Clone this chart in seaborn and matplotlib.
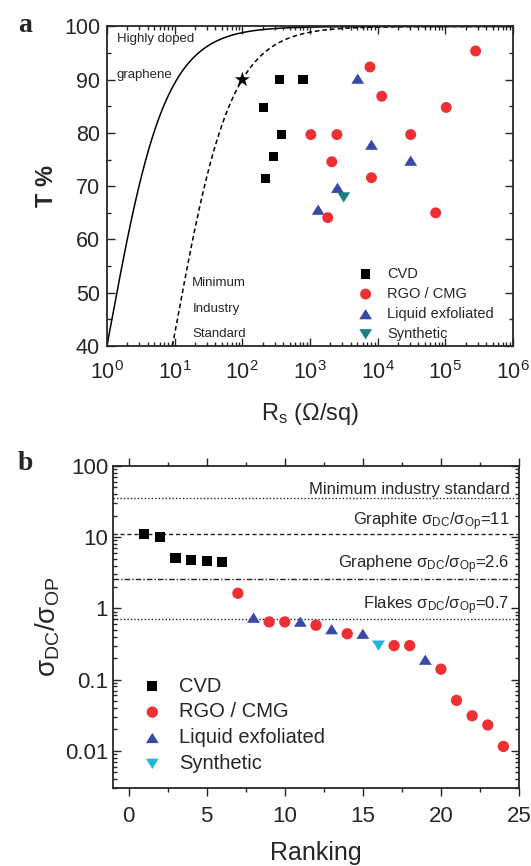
import numpy as np
import pandas as pd
import matplotlib
matplotlib.use("Agg")
import matplotlib.pyplot as plt
import seaborn as sns
from matplotlib.ticker import LogLocator, MultipleLocator, NullFormatter, FixedLocator, FixedFormatter

# ---------------- Panel a data ----------------
cvd_rs = [356, 790, 205, 377, 290, 219]
cvd_t = [90, 90, 84.8, 79.7, 75.6, 71.5]
rgo_rs = [2.8e5, 7700, 11500, 1.03e5, 1030, 2500, 30800, 2100, 8100, 1830, 72000]
rgo_t = [95.4, 92.4, 86.9, 84.8, 79.7, 79.7, 79.7, 74.6, 71.6, 64.1, 65.0]
liq_rs = [5080, 8100, 30800, 2550, 1320]
liq_t = [90.2, 77.8, 74.8, 69.7, 65.6]
syn_rs = [3150]
syn_t = [67.9]
star_rs = [100]
star_t = [90]
# model curves: T = (1 + Z0/(2 Rs) / ratio)^-2
z0 = 376.7
ratio_doped = 325
ratio_industry = 35

# ---------------- Panel b data ----------------
cvd_rank = [1, 2, 3, 4, 5, 6]
cvd_ratio = [11.2, 10.1, 5.1, 4.77, 4.6, 4.47]
rgo_rank = [7, 9, 10, 12, 14, 17, 18, 20, 21, 22, 23, 24]
rgo_ratio = [1.63, 0.645, 0.645, 0.58, 0.44, 0.30, 0.30, 0.14, 0.051, 0.031, 0.023, 0.0115]
liq_rank = [8, 11, 13, 15, 19]
liq_ratio = [0.74, 0.65, 0.51, 0.44, 0.19]
syn_rank = [16]
syn_ratio = [0.30]
ref_levels = [35, 11, 2.6, 0.7]
ref_styles = [(0, (1, 1.5)), (0, (3, 2)), (0, (4, 1.5, 1, 1.5)), (0, (1, 1.5))]
ref_texts = ["Minimum industry standard",
             r"Graphite σ$_{\mathregular{DC}}$/σ$_{\mathregular{Op}}$=11",
             r"Graphene σ$_{\mathregular{DC}}$/σ$_{\mathregular{Op}}$=2.6",
             r"Flakes σ$_{\mathregular{DC}}$/σ$_{\mathregular{Op}}$=0.7"]
ref_text_y = [40, 14.6, 3.66, 0.975]

labels = ["CVD", "RGO / CMG", "Liquid exfoliated", "Synthetic"]

sns.set_style("ticks")
plt.rcParams["font.family"] = ["Liberation Sans", "DejaVu Sans"]
plt.rcParams["mathtext.fontset"] = "custom"
plt.rcParams["mathtext.rm"] = "Liberation Sans"
plt.rcParams["mathtext.it"] = "Liberation Sans:italic"
plt.rcParams["mathtext.bf"] = "Liberation Sans:bold"
plt.rcParams["mathtext.sf"] = "Liberation Sans"

tri_up = [(0, 0.8), (-1, -0.8), (1, -0.8)]
tri_dn = [(0, -0.8), (-1, 0.8), (1, 0.8)]

red = "#ee2f33"
blue = "#3949a6"
teal = "#1a7f80"
cyan = "#22b6d6"

fig = plt.figure(figsize=(5.31, 8.66), dpi=100)
axa = fig.add_axes([0.2015, 0.6005, 0.7646, 0.3689])
axb = fig.add_axes([0.2128, 0.0901, 0.7646, 0.3718])

# ---------------- Panel a ----------------
rs_grid = np.logspace(-0.2, 6, 600)
curve = pd.DataFrame({
    "rs": np.concatenate([rs_grid, rs_grid]),
    "T": np.concatenate([100 * (1 + z0 / (2 * rs_grid) / ratio_doped) ** -2,
                         100 * (1 + z0 / (2 * rs_grid) / ratio_industry) ** -2]),
    "kind": ["doped"] * len(rs_grid) + ["industry"] * len(rs_grid),
})
sns.lineplot(data=curve[curve.kind == "doped"], x="rs", y="T", ax=axa, color="black",
             lw=1.1, estimator=None, sort=False)
sns.lineplot(data=curve[curve.kind == "industry"], x="rs", y="T", ax=axa, color="black",
             lw=1.1, estimator=None, sort=False, linestyle=(0, (3, 2)))

groups_a = [(cvd_rs, cvd_t, "s", "black", 45),
            (rgo_rs, rgo_t, "o", red, 62),
            (liq_rs, liq_t, tri_up, blue, 85),
            (syn_rs, syn_t, tri_dn, teal, 85)]
for (xs, ys, mk, col, s), lab in zip(groups_a, labels):
    sns.scatterplot(x=xs, y=ys, ax=axa, marker=mk, color=col, s=s, edgecolor="none",
                    label=lab, zorder=3)
sns.scatterplot(x=star_rs, y=star_t, ax=axa, marker="*", color="black", s=130,
                edgecolor="none", zorder=3)

axa.set_xscale("log")
axa.set_xlim(1, 1e6)
axa.set_ylim(40, 100)
axa.xaxis.set_major_locator(LogLocator(base=10, numticks=10))
axa.xaxis.set_minor_locator(LogLocator(base=10, subs=np.arange(2, 10), numticks=20))
axa.xaxis.set_minor_formatter(NullFormatter())
axa.yaxis.set_major_locator(MultipleLocator(10))
axa.yaxis.set_minor_locator(MultipleLocator(5))
axa.tick_params(which="both", top=True, right=True, direction="in", labelsize=15.5,
                width=1.0)
axa.tick_params(which="major", length=6)
axa.tick_params(which="minor", length=3)
axa.tick_params(axis="x", which="major", pad=11)
axa.tick_params(axis="y", which="major", pad=5)
for sp in axa.spines.values():
    sp.set_linewidth(1.3)
axa.set_xlabel(r"R$_{\mathregular{s}}$ (Ω/sq)", fontsize=17, labelpad=12)
axa.set_ylabel("T %", fontsize=17, fontweight="bold", labelpad=4)

axa.text(0.024, 0.9506, "Highly doped", transform=axa.transAxes, fontsize=9.5, va="baseline")
axa.text(0.024, 0.839, "graphene", transform=axa.transAxes, fontsize=9.5, va="baseline")
axa.text(0.210, 0.189, "Minimum", transform=axa.transAxes, fontsize=9.5, va="baseline")
axa.text(0.210, 0.106, "Industry", transform=axa.transAxes, fontsize=9.5, va="baseline")
axa.text(0.210, 0.027, "Standard", transform=axa.transAxes, fontsize=9.5, va="baseline")

axa.legend(loc="upper left", bbox_to_anchor=(0.619, 0.248), frameon=False, fontsize=10.5,
           handlelength=1.0, handletextpad=1.0, labelspacing=0.42, borderpad=0,
           borderaxespad=0, scatterpoints=1)

fig.text(18 / 531, 1 - 25 / 866, "a", fontsize=20, fontweight="bold",
         family="Liberation Serif", va="center", ha="left")

# ---------------- Panel b ----------------
for lvl, ls in zip(ref_levels, ref_styles):
    axb.axhline(lvl, color="#222222", lw=1.0, linestyle=ls, zorder=1)
for txt, ty in zip(ref_texts, ref_text_y):
    axb.text(0.977, ty, txt, transform=axb.get_yaxis_transform(), ha="right",
             va="baseline", fontsize=12)

groups_b = [(cvd_rank, cvd_ratio, "s", "black", 55),
            (rgo_rank, rgo_ratio, "o", red, 66),
            (liq_rank, liq_ratio, tri_up, blue, 85),
            (syn_rank, syn_ratio, tri_dn, cyan, 85)]
for (xs, ys, mk, col, s), lab in zip(groups_b, labels):
    sns.scatterplot(x=xs, y=ys, ax=axb, marker=mk, color=col, s=s, edgecolor="none",
                    label=lab, zorder=3)

axb.set_yscale("log")
axb.set_xlim(-1, 25)
axb.set_ylim(0.003, 100)
axb.xaxis.set_major_locator(MultipleLocator(5))
axb.xaxis.set_minor_locator(MultipleLocator(2.5))
axb.yaxis.set_major_locator(FixedLocator([0.01, 0.1, 1, 10, 100]))
axb.yaxis.set_major_formatter(FixedFormatter(["0.01", "0.1", "1", "10", "100"]))
axb.yaxis.set_minor_locator(LogLocator(base=10, subs=np.arange(2, 10), numticks=20))
axb.yaxis.set_minor_formatter(NullFormatter())
axb.tick_params(which="both", top=True, right=True, direction="in", labelsize=16,
                width=1.0)
axb.tick_params(which="major", length=6)
axb.tick_params(which="minor", length=3)
axb.tick_params(axis="x", which="both", bottom=True, direction="out")
axb.tick_params(axis="x", which="major", pad=7)
for sp in axb.spines.values():
    sp.set_linewidth(1.3)
axb.set_xlabel("Ranking", fontsize=18, labelpad=10)
axb.set_ylabel(r"σ$_{\mathregular{DC}}$/σ$_{\mathregular{OP}}$", fontsize=20, labelpad=2)

axb.legend(loc="upper left", bbox_to_anchor=(0.072, 0.346), frameon=False, fontsize=14.5,
           handlelength=1.0, handletextpad=0.85, labelspacing=0.34, borderpad=0,
           borderaxespad=0, scatterpoints=1)

fig.text(18 / 531, 1 - 464 / 866, "b", fontsize=20, fontweight="bold",
         family="Liberation Serif", va="center", ha="left")

fig.savefig("out.png", dpi=100)
